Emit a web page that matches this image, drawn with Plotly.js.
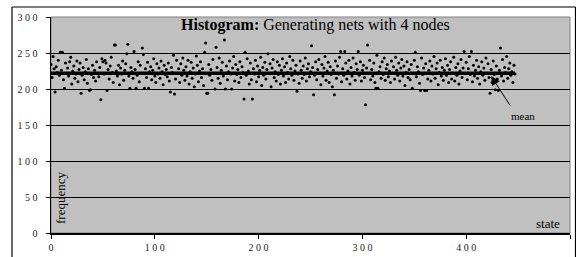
<!DOCTYPE html>
<html>
<head>
<meta charset="utf-8">
<script src="https://cdn.plot.ly/plotly-3.0.1.min.js"></script>
<style>html,body{margin:0;padding:0;background:#fff;}#chart{width:576px;height:257px;}</style>
</head>
<body>
<div id="chart"></div>
<script>
// frequency of each generated state (states 0..447)
const frequencies = [
234,216,245,228,196,231,223,240,219,251,226,251,213,201,236,222,
229,218,238,244,207,225,232,215,221,239,210,227,236,194,219,230,
213,224,241,208,228,198,199,220,233,216,226,211,238,222,217,230,
185,242,238,221,240,236,198,227,214,232,244,223,209,261,261,225,
218,233,206,229,221,239,212,226,235,249,262,218,201,230,224,215,
252,227,201,219,238,210,233,222,257,248,201,228,216,237,201,224,
231,213,226,242,218,209,235,221,229,215,239,224,206,233,220,227,
217,236,211,196,230,223,247,193,214,240,222,228,209,235,219,243,
226,212,231,218,240,207,224,237,215,229,203,221,246,233,210,225,
238,216,228,205,251,264,194,194,234,219,227,212,241,222,200,258,
230,215,243,208,226,237,218,268,200,232,213,224,239,221,200,229,
245,211,234,220,227,209,238,216,231,223,186,251,219,242,225,207,
236,213,186,228,221,240,210,232,217,226,244,205,230,219,237,214,
227,249,222,235,203,229,241,216,224,211,238,220,233,207,226,242,
218,231,209,236,223,214,245,228,219,240,212,225,233,197,221,208,
239,226,215,232,220,243,211,228,235,217,224,260,230,192,219,238,
213,227,241,222,206,234,218,229,245,212,225,237,209,231,220,203,
226,192,239,215,232,221,244,252,210,228,219,252,236,214,225,240,
207,230,218,243,223,212,235,227,252,219,238,211,226,233,216,178,
229,261,222,240,213,227,218,236,209,201,247,201,224,231,215,238,
220,243,212,228,234,217,225,209,239,222,231,214,244,226,219,236,
211,229,241,218,232,205,223,238,216,227,213,234,201,222,240,251,
217,231,224,208,198,243,220,229,198,235,198,214,226,239,211,232,
221,245,215,228,236,206,223,240,218,230,212,226,242,219,233,209,
227,238,214,222,244,211,230,219,235,207,225,241,216,229,252,222,
237,213,228,245,220,252,210,233,218,226,240,215,231,207,224,238,
219,229,212,243,222,235,216,194,227,209,239,220,199,232,214,198,
226,257,218,241,211,230,223,245,215,228,236,219,224,209,233,221
];
const states = frequencies.map((_, i) => i);
const meanValue = 222;
const S = "\u00a0";
const xTickVals = [0, 100, 200, 300, 400, 500];
const xTickText = ["0", "1"+S+"0"+S+"0", "2"+S+"0"+S+"0", "3"+S+"0"+S+"0", "4"+S+"0"+S+"0", "5"+S+"0"+S+"0"];
const yTickVals = [0, 50, 100, 150, 200, 250, 300];
const yTickText = ["0", "5"+S+"0", "1"+S+"0"+S+"0", "1"+S+"5"+S+"0", "2"+S+"0"+S+"0", "2"+S+"5"+S+"0", "3"+S+"0"+S+"0"];
const titleText = "<b>Histogram:</b> Generating nets with 4 nodes";

const serif = "Liberation Serif";

const traces = [
  {
    x: [states[0], states[states.length - 1]],
    y: [meanValue, meanValue],
    mode: "lines",
    line: {color: "#000", width: 3.5},
    hoverinfo: "skip"
  },
  {
    x: states,
    y: frequencies,
    mode: "markers",
    marker: {color: "#000", size: 3}
  }
];

const fx = px => (px - 51) / 519;
const fy = py => (233 - py) / 216;

const layout = {
  width: 576, height: 257,
  margin: {l: 51, r: 6, t: 17, b: 24, pad: 0},
  paper_bgcolor: "#fff",
  plot_bgcolor: "#c0c0c0",
  showlegend: false,
  font: {family: serif, color: "#000"},
  xaxis: {
    range: [0, 500], tickvals: xTickVals, ticktext: xTickText,
    showgrid: false, zeroline: false,
    showline: true, linecolor: "#000", linewidth: 1.5,
    ticks: "outside", ticklen: 4, tickcolor: "#000", tickwidth: 1,
    tickfont: {family: serif, size: 10, color: "#222"}
  },
  yaxis: {
    range: [0, 300], tickvals: yTickVals, ticktext: yTickText,
    showgrid: true, gridcolor: "#000", gridwidth: 1,
    zeroline: false,
    showline: true, linecolor: "#000", linewidth: 1.5,
    ticks: "outside", ticklen: 4, tickcolor: "#000", tickwidth: 1,
    ticklabelstandoff: 6,
    tickfont: {family: serif, size: 10, color: "#222"}
  },
  shapes: [
    {type: "rect", xref: "paper", yref: "paper", x0: 0, x1: 1, y0: 0, y1: 1,
     line: {color: "#808080", width: 1}, layer: "below"},
    {type: "line", xref: "paper", yref: "paper", x0: fx(12), x1: fx(12), y0: fy(7), y1: fy(300),
     line: {color: "#000", width: 1.2}},
    {type: "line", xref: "paper", yref: "paper", x0: fx(12), x1: fx(575.5), y0: fy(7), y1: fy(7),
     line: {color: "#000", width: 1.2}},
    {type: "line", xref: "paper", yref: "paper", x0: fx(575.5), x1: fx(575.5), y0: fy(7), y1: fy(300),
     line: {color: "#000", width: 1.2}}
  ],
  annotations: [
    {text: titleText, xref: "paper", yref: "paper", x: fx(315), y: fy(25),
     xanchor: "center", yanchor: "middle", showarrow: false,
     font: {family: serif, size: 16, color: "#000"}},
    {text: "", x: 424, y: 218, xref: "x", yref: "y", showarrow: true,
     ax: 20, ay: 31, arrowhead: 2, arrowsize: 1.8, arrowwidth: 1, arrowcolor: "#000"},
    {text: "mean", xref: "paper", yref: "paper", x: fx(523), y: fy(116),
     xanchor: "center", yanchor: "middle", showarrow: false,
     font: {family: serif, size: 11, color: "#000"}},
    {text: "frequency", xref: "paper", yref: "paper", x: fx(60), y: fy(198),
     xanchor: "center", yanchor: "middle", showarrow: false, textangle: -90,
     font: {family: serif, size: 13, color: "#000"}},
    {text: "state", xref: "paper", yref: "paper", x: fx(548), y: fy(223),
     xanchor: "center", yanchor: "middle", showarrow: false,
     font: {family: serif, size: 13, color: "#000"}}
  ]
};

Plotly.newPlot("chart", traces, layout, {staticPlot: true, displayModeBar: false});
</script>
</body>
</html>
